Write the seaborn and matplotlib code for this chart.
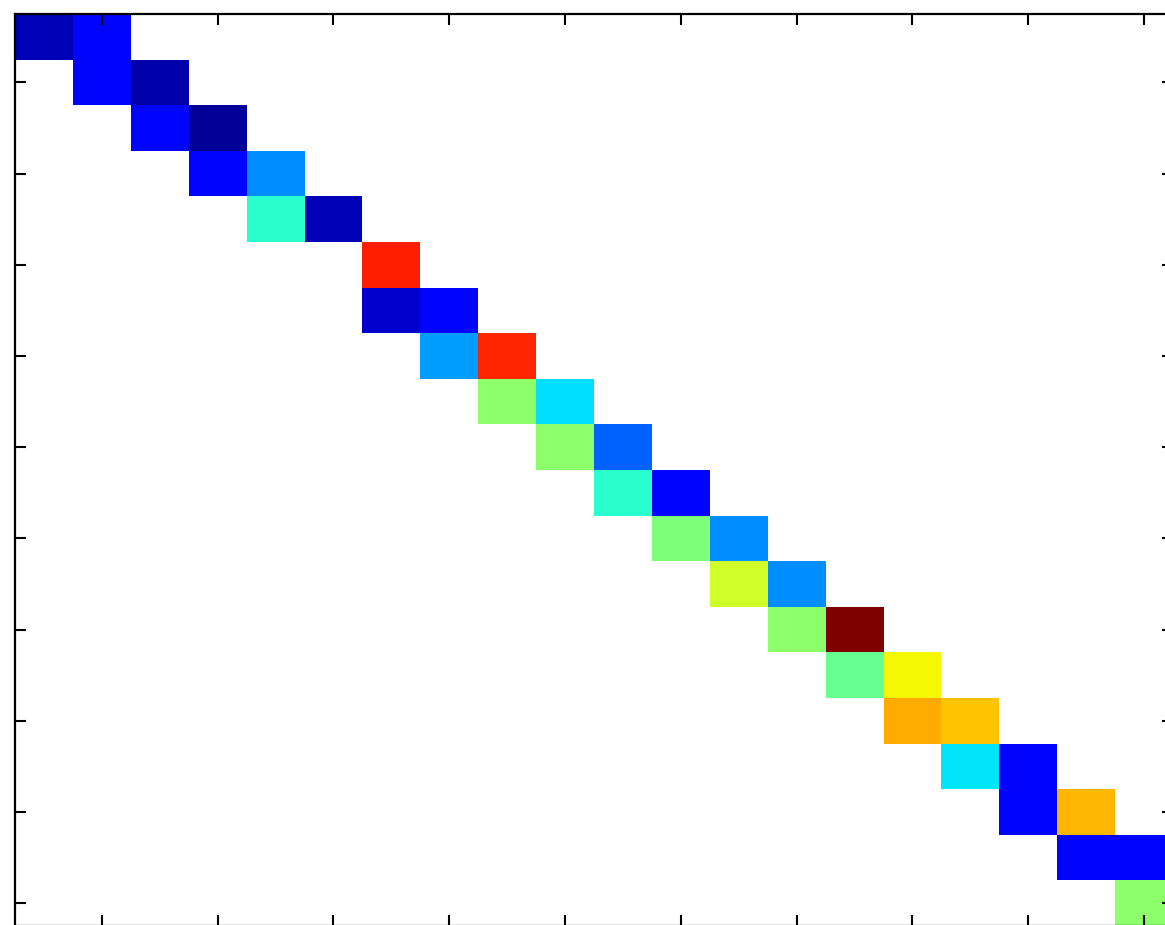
import numpy as np
import pandas as pd
import seaborn as sns
import matplotlib.pyplot as plt

# nonzero entries of the (upper bidiagonal) matrix
n = 20
rows = [0, 0, 1, 1, 2, 2, 3, 3, 4, 4, 5, 6, 6, 7, 7, 8, 8, 9, 9, 10,
        10, 11, 11, 12, 12, 13, 13, 14, 14, 15, 15, 16, 16, 17, 17, 18, 18, 19]
cols = [0, 1, 1, 2, 2, 3, 3, 4, 4, 5, 6, 6, 7, 7, 8, 8, 9, 9, 10, 10,
        11, 11, 12, 12, 13, 13, 14, 14, 15, 15, 16, 16, 17, 17, 18, 18, 19, 19]
values = [0.05, 0.13, 0.13, 0.04, 0.13, 0.02, 0.13, 0.265, 0.40, 0.05,
          0.875, 0.07, 0.13, 0.28, 0.87, 0.52, 0.34, 0.52, 0.22, 0.40,
          0.13, 0.50, 0.265, 0.60, 0.265, 0.52, 1.00, 0.475, 0.645, 0.73,
          0.70, 0.35, 0.13, 0.13, 0.715, 0.13, 0.13, 0.52]

mat = np.full((n, n), np.nan)
for r, c, v in zip(rows, cols, values):
    mat[r, c] = v
df = pd.DataFrame(mat)

fig = plt.figure(figsize=(11.65, 9.25), dpi=100)
ax = fig.add_axes([15 / 1165, -1 / 925, 1158 / 1165, 912 / 925])

sns.heatmap(df, ax=ax, cmap="jet", vmin=0, vmax=1, cbar=False,
            linewidths=0, xticklabels=False, yticklabels=False)

# matlab-ish box with inward ticks on every other cell
tick_pos = np.arange(1, n, 2) + 0.5
ax.set_xticks(tick_pos)
ax.set_yticks(tick_pos)
ax.set_xticklabels([])
ax.set_yticklabels([])
ax.tick_params(direction="in", length=8, width=1.5, color="black",
               top=True, right=True, bottom=True, left=True)
for s in ax.spines.values():
    s.set_visible(True)
    s.set_linewidth(1.6)
    s.set_color("black")

fig.savefig("out.png", dpi=100)
